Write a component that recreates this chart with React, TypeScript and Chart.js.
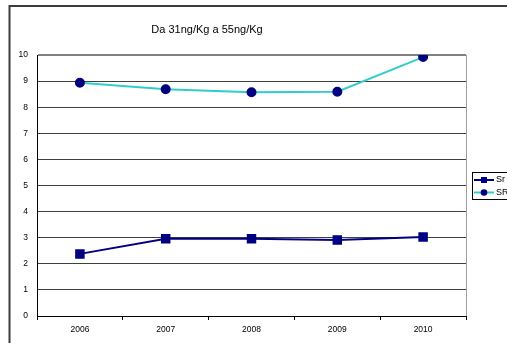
import React, { useEffect, useRef } from "react";
import { Chart, registerables } from "chart.js";

Chart.register(...registerables);

const years = ["2006", "2007", "2008", "2009", "2010"];
const srValues = [2.38, 2.96, 2.96, 2.91, 3.03];
const srUpperValues = [8.94, 8.69, 8.57, 8.59, 9.92];
const seriesLabels = ["Sr", "SR"];
const chartTitle = "Da 31ng/Kg a 55ng/Kg";

const FONT = "'Liberation Sans', Arial, sans-serif";
const NAVY = "#000080";
const TURQUOISE = "#33CCCC";

const framePlugin = {
  id: "frame",
  beforeDraw(chart: any) {
    const { ctx, width, height } = chart;
    ctx.save();
    ctx.fillStyle = "#ffffff";
    ctx.fillRect(0, 0, width, height);
    ctx.strokeStyle = "#3c3c3c";
    ctx.lineWidth = 2;
    ctx.beginPath();
    ctx.moveTo(9.5, height);
    ctx.lineTo(9.5, 6);
    ctx.lineTo(width, 6);
    ctx.stroke();
    // chart title
    ctx.fillStyle = "#000";
    ctx.font = `11px ${FONT}`;
    ctx.textAlign = "center";
    ctx.textBaseline = "middle";
    ctx.fillText(chartTitle, 207, 29.5);
    ctx.restore();
  },
  beforeDatasetsDraw(chart: any) {
    const { ctx, chartArea } = chart;
    ctx.save();
    ctx.strokeStyle = "#a0a0a0";
    ctx.lineWidth = 1;
    ctx.beginPath();
    ctx.moveTo(Math.round(chartArea.right) + 0.5, chartArea.top);
    ctx.lineTo(Math.round(chartArea.right) + 0.5, chartArea.bottom);
    ctx.stroke();
    ctx.restore();
  },
};

const legendPlugin = {
  id: "boxLegend",
  afterDraw(chart: any) {
    const { ctx } = chart;
    const x0 = 472.5;
    const y0 = 172.5;
    ctx.save();
    ctx.fillStyle = "#fff";
    ctx.fillRect(x0, y0, 60, 27);
    ctx.strokeStyle = "#000";
    ctx.lineWidth = 1;
    ctx.strokeRect(x0, y0, 60, 27);
    chart.data.datasets.forEach((ds: any, i: number) => {
      const y = 180 + i * 12.5;
      ctx.strokeStyle = ds.borderColor;
      ctx.lineWidth = 2;
      ctx.beginPath();
      ctx.moveTo(474, y);
      ctx.lineTo(494, y);
      ctx.stroke();
      ctx.fillStyle = ds.pointBackgroundColor;
      if (ds.pointStyle === "rect") {
        ctx.fillRect(481, y - 3, 6, 6);
      } else {
        ctx.beginPath();
        ctx.arc(484, y, 3.3, 0, Math.PI * 2);
        ctx.fill();
      }
      ctx.fillStyle = "#000";
      ctx.font = `9px ${FONT}`;
      ctx.textAlign = "left";
      ctx.textBaseline = "middle";
      ctx.fillText(ds.label, 496, y);
    });
    ctx.restore();
  },
};

export default function App() {
  const canvasRef = useRef<HTMLCanvasElement | null>(null);

  useEffect(() => {
    if (!canvasRef.current) return;
    const chart = new Chart(canvasRef.current, {
      type: "line",
      data: {
        labels: years,
        datasets: [
          {
            label: seriesLabels[0],
            data: srValues,
            borderColor: NAVY,
            backgroundColor: NAVY,
            pointBackgroundColor: NAVY,
            pointBorderColor: NAVY,
            pointStyle: "rect",
            pointRadius: 5.3,
            borderWidth: 2,
            tension: 0,
            fill: false,
          },
          {
            label: seriesLabels[1],
            data: srUpperValues,
            borderColor: TURQUOISE,
            backgroundColor: NAVY,
            pointBackgroundColor: NAVY,
            pointBorderColor: NAVY,
            pointStyle: "circle",
            pointRadius: 4,
            borderWidth: 2,
            tension: 0,
            fill: false,
          },
        ],
      },
      options: {
        animation: false,
        responsive: false,
        devicePixelRatio: 1,
        layout: { padding: { left: 0, top: 55, right: 41, bottom: 0 } },
        plugins: {
          legend: { display: false },
          title: { display: false },
          tooltip: { enabled: false },
        },
        scales: {
          x: {
            type: "category",
            offset: true,
            grid: {
              drawOnChartArea: false,
              drawTicks: true,
              tickLength: 4,
              offset: true,
              color: "#000",
            },
            border: { color: "#000", width: 1 },
            ticks: {
              font: { family: FONT, size: 8.5 },
              color: "#000",
              padding: 5,
              maxRotation: 0,
            },
            afterFit: (s: any) => {
              s.height = 27;
            },
          },
          y: {
            min: 0,
            max: 10,
            ticks: {
              stepSize: 1,
              font: { family: FONT, size: 8.5 },
              color: "#000",
              padding: 9,
            },
            grid: {
              drawTicks: false,
              color: (c: any) => (c.tick && c.tick.value === 10 ? "#808080" : "#404040"),
              lineWidth: (c: any) => (c.tick && c.tick.value === 10 ? 2 : 1),
            },
            border: { color: "#000", width: 1 },
            afterFit: (s: any) => {
              s.width = 37;
            },
          },
        },
      },
      plugins: [framePlugin, legendPlugin],
    });
    return () => chart.destroy();
  }, []);

  return (
    <div style={{ position: "fixed", left: 0, top: 0, width: 507, height: 343, overflow: "hidden" }}>
      <canvas ref={canvasRef} width={507} height={343} style={{ display: "block" }} />
    </div>
  );
}
